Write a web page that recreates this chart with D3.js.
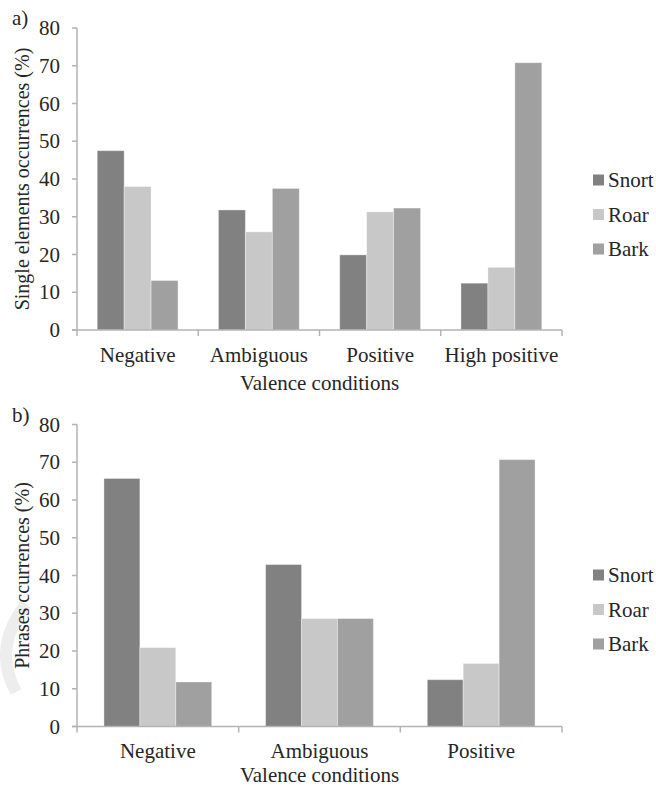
<!DOCTYPE html>
<html>
<head>
<meta charset="utf-8">
<script src="https://cdn.jsdelivr.net/npm/d3@7"></script>
<style>
  html, body { margin: 0; padding: 0; background: #fff; }
  svg { display: block; }
  svg text { font-family: "Liberation Serif", "Tinos", "Times New Roman", "Nimbus Roman", "Nimbus Roman No9 L", "DejaVu Serif", "Noto Serif", "FreeSerif", "Noto Serif CJK SC", serif; }
</style>
</head>
<body>
<svg id="chart" width="656" height="788"></svg>
<script>
const series = ["Snort", "Roar", "Bark"];
const seriesColors = ["#818181", "#c8c8c8", "#a0a0a0"];
const yTicks = [0, 10, 20, 30, 40, 50, 60, 70, 80];

const categoriesA = ["Negative", "Ambiguous", "Positive", "High positive"];
const snortA = [47.5, 31.8, 19.9, 12.4];
const roarA  = [38.0, 26.0, 31.3, 16.6];
const barkA  = [13.1, 37.5, 32.3, 70.8];

const categoriesB = ["Negative", "Ambiguous", "Positive"];
const snortB = [65.7, 42.9, 12.4];
const roarB  = [20.9, 28.6, 16.7];
const barkB  = [11.8, 28.6, 70.7];

const svg = d3.select("#chart");
const axisColor = "#b3b3b3";
const textColor = "#262626";

function panel(opts) {
  const { top, bottom, left, right, cats, vals, label, yTitle } = opts;
  const g = svg.append("g").attr("fill", textColor);
  const y = d3.scaleLinear().domain([0, 80]).range([bottom, top]);
  const x0 = d3.scaleBand().domain(cats).range([left, right]).paddingInner(0).paddingOuter(0);
  const inner = x0.bandwidth() * 3 / 4.5;
  const x1 = d3.scaleBand().domain(series).range([0, inner]).padding(0);
  const offset = (x0.bandwidth() - inner) / 2;

  g.append("line").attr("x1", left).attr("x2", left).attr("y1", y(80)).attr("y2", y(0))
    .attr("stroke", axisColor).attr("stroke-width", 1.5);
  g.selectAll(".yt").data(yTicks).join("line")
    .attr("x1", left - 5).attr("x2", left).attr("y1", d => y(d)).attr("y2", d => y(d))
    .attr("stroke", axisColor).attr("stroke-width", 1.5);
  g.selectAll(".yl").data(yTicks).join("text")
    .attr("x", left - 17).attr("y", d => y(d)).attr("dy", "0.34em")
    .attr("text-anchor", "end").attr("font-size", 21).text(d => d);

  cats.forEach((c, i) => {
    series.forEach((s, j) => {
      const v = vals[j][i];
      g.append("rect")
        .attr("x", x0(c) + offset + x1(s))
        .attr("y", y(v))
        .attr("width", x1.bandwidth())
        .attr("height", y(0) - y(v))
        .attr("fill", seriesColors[j])
        .attr("stroke", "#ffffff").attr("stroke-opacity", 0.35).attr("stroke-width", 1);
    });
  });

  g.append("line").attr("x1", left - 5).attr("x2", right).attr("y1", y(0)).attr("y2", y(0))
    .attr("stroke", axisColor).attr("stroke-width", 1.5);
  const bounds = cats.map(c => x0(c)).concat([right]);
  g.selectAll(".xt").data(bounds).join("line")
    .attr("x1", d => d).attr("x2", d => d).attr("y1", y(0)).attr("y2", y(0) + 6)
    .attr("stroke", axisColor).attr("stroke-width", 1.5);
  g.selectAll(".xl").data(cats).join("text")
    .attr("x", d => x0(d) + x0.bandwidth() / 2).attr("y", y(0) + opts.catDy)
    .attr("text-anchor", "middle").attr("font-size", 21).text(d => d);

  g.append("text").attr("x", (left + right) / 2).attr("y", y(0) + opts.titleDy)
    .attr("text-anchor", "middle").attr("font-size", 21).text("Valence conditions");

  g.append("text")
    .attr("transform", `translate(${29},${(top + bottom) / 2}) rotate(-90)`)
    .attr("text-anchor", "middle").attr("font-size", 20).text(yTitle);

  g.append("text").attr("x", 12).attr("y", top - 3).attr("font-size", 21).text(label);

  const lg = g.append("g");
  series.forEach((s, j) => {
    const cy = opts.legendY + j * 34.5;
    lg.append("rect").attr("x", 593).attr("y", cy - 5.5).attr("width", 11).attr("height", 11)
      .attr("fill", seriesColors[j]);
    lg.append("text").attr("x", 608).attr("y", cy).attr("dy", "0.34em")
      .attr("font-size", 21).text(s);
  });
}

svg.append("path")
  .attr("d", "M 26 604 Q -8 648 16 692")
  .attr("fill", "none").attr("stroke", "#ededed").attr("stroke-width", 12);

panel({ top: 28, bottom: 330, left: 77, right: 562, cats: categoriesA,
  vals: [snortA, roarA, barkA], label: "a)", yTitle: "Single elements occurrences (%)",
  legendY: 180, catDy: 32, titleDy: 60 });
panel({ top: 424.5, bottom: 726.5, left: 77, right: 562, cats: categoriesB,
  vals: [snortB, roarB, barkB], label: "b)", yTitle: "Phrases ccurrences (%)",
  legendY: 575, catDy: 31, titleDy: 55 });
</script>
</body>
</html>
